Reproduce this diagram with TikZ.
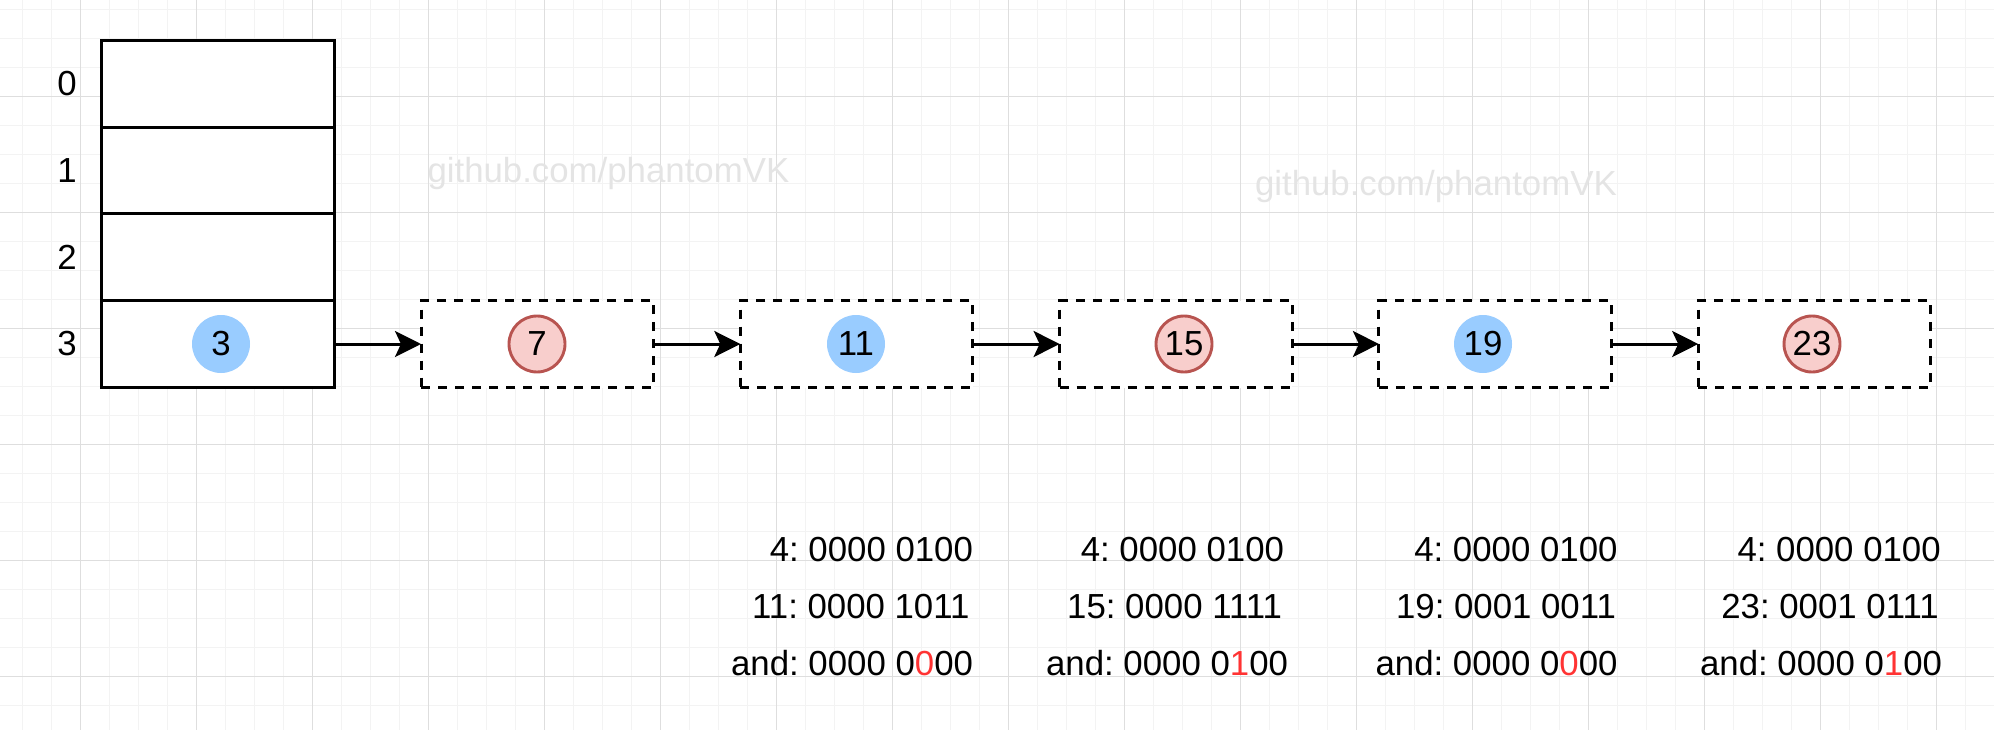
\documentclass[tikz,border=0pt]{standalone}
\usepackage{fontspec}
\setmainfont{Liberation Sans}
\usetikzlibrary{arrows.meta}
\definecolor{gridminor}{HTML}{F3F3F3}
\definecolor{gridmajor}{HTML}{DEDEDE}
\definecolor{ballblue}{HTML}{99CCFF}
\definecolor{ballred}{HTML}{F8CECC}
\definecolor{ballredline}{HTML}{B85450}
\definecolor{hilite}{HTML}{FF3333}
\definecolor{wmgray}{HTML}{E4E4E4}
\newcommand{\redbit}[1]{\textcolor{hilite}{#1}}
\frenchspacing
\begin{document}
\begin{tikzpicture}[x=1pt,y=-1pt,
  every node/.style={font=\fontsize{34.8}{40}\selectfont, inner sep=0pt, outer sep=0pt},
  minorline/.style={draw=gridminor, line width=1pt},
  majorline/.style={draw=gridmajor, line width=1pt},
  cell/.style={draw, line width=3pt, fill=white, minimum width=232.5pt, minimum height=86.75pt},
  listbox/.style={draw, line width=3pt, dash pattern=on 9pt off 8pt, fill=white, minimum width=232.5pt, minimum height=87pt},
  bball/.style={circle, fill=ballblue, minimum size=58pt},
  rball/.style={circle, fill=ballred, draw=ballredline, line width=2.9pt, minimum size=56pt},
  conn/.style={line width=3pt, -{Stealth[length=26pt,width=26pt,inset=6pt]}},
  bits/.style={anchor=base east},
  watermark/.style={anchor=base west, text=wmgray}
]
\useasboundingbox (0,0) rectangle (1994,730);
\fill[white] (0,0) rectangle (1994,730);
% grid
\foreach \k in {-2,...,66} { \draw[minorline] ({80+29*\k},0) -- ({80+29*\k},730); }
\foreach \k in {-3,...,21} { \draw[minorline] (0,{96.7+29*\k}) -- (1994,{96.7+29*\k}); }
\foreach \k in {0,...,16} { \draw[majorline] ({80+116*\k},0) -- ({80+116*\k},730); }
\foreach \k in {0,...,5} { \draw[majorline] (0,{96.7+116*\k}) -- (1994,{96.7+116*\k}); }

% watermarks
\node[watermark] (wm1) at (427.5,182.7) {github.com/phantomVK};
\node[watermark] (wm2) at (1255,196) {github.com/phantomVK};

% table
\node[cell] (row0) at (218,83.75) {};
\node[cell] (row1) at (218,170.5) {};
\node[cell] (row2) at (218,257.25) {};
\node[cell] (row3) at (218,344) {};
\node (lab0) at (67,83.75) {0};
\node (lab1) at (67,170.5) {1};
\node (lab2) at (67,257.25) {2};
\node (lab3) at (67,344) {3};
\node[bball] (c3) at (221,344) {3};

% list boxes
\node[listbox] (b7) at (537.25,344) {};
\node[listbox] (b11) at (856.55,344) {};
\node[listbox] (b15) at (1175.85,344) {};
\node[listbox] (b19) at (1495.15,344) {};
\node[listbox] (b23) at (1814.45,344) {};
\node[rball] (c7) at (537,344) {7};
\node[bball] (c11) at (856,344) {11};
\node[rball] (c15) at (1184,344) {15};
\node[bball] (c19) at (1483,344) {19};
\node[rball] (c23) at (1812,344) {23};

% connectors
\draw[conn] (row3.east) -- (b7.west);
\draw[conn] (b7.east) -- (b11.west);
\draw[conn] (b11.east) -- (b15.west);
\draw[conn] (b15.east) -- (b19.west);
\draw[conn] (b19.east) -- (b23.west);

% bit operations
\node[bits] (t11a) at (973,561) {4: 0000 0100};
\node[bits] (t11b) at (969.5,618.3) {11: 0000 1011};
\node[bits] (t11c) at (973,675) {and: 0000 0\redbit{0}00};
\node[bits] (t15a) at (1284,561) {4: 0000 0100};
\node[bits] (t15b) at (1282,618.3) {15: 0000 1111};
\node[bits] (t15c) at (1288,675) {and: 0000 0\redbit{1}00};
\node[bits] (t19a) at (1617.5,561) {4: 0000 0100};
\node[bits] (t19b) at (1616,618.3) {19: 0001 0011};
\node[bits] (t19c) at (1617.5,675) {and: 0000 0\redbit{0}00};
\node[bits] (t23a) at (1940.7,561) {4: 0000 0100};
\node[bits] (t23b) at (1938.7,618.3) {23: 0001 0111};
\node[bits] (t23c) at (1942,675) {and: 0000 0\redbit{1}00};
\end{tikzpicture}
\end{document}
